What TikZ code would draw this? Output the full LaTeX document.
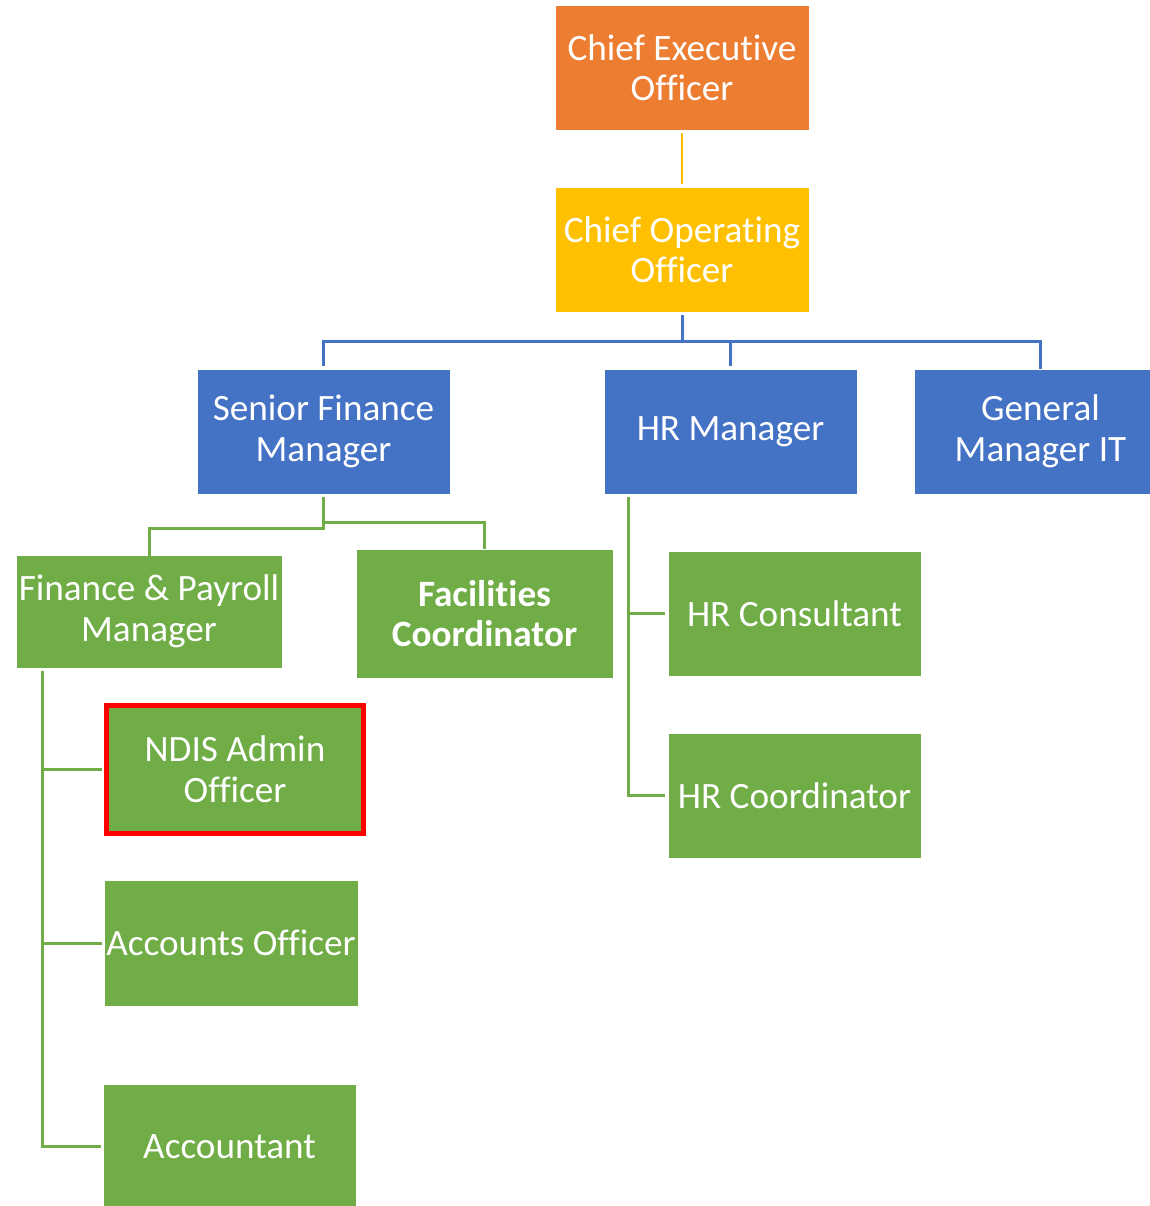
\documentclass[tikz,border=0pt]{standalone}
\usepackage{fontspec}
\setmainfont{Carlito}[Ligatures={NoCommon,NoContextual}, RawFeature={-liga;-clig;-calt;-dlig}]
\newcommand{\nolig}{\kern0pt}
\definecolor{cOrange}{HTML}{ED7D31}
\definecolor{cGold}{HTML}{FFC000}
\definecolor{cBlue}{HTML}{4472C4}
\definecolor{cGreen}{HTML}{70AD47}
\definecolor{cRed}{HTML}{FF0000}
\begin{document}
\begin{tikzpicture}[x=1pt,y=-1pt,
  box/.style={rectangle, draw=white, line width=0.8pt, text=white, align=center,
    inner sep=0pt, minimum width=253pt, minimum height=125pt,
    font=\fontsize{37.2}{40.5}\selectfont},
  orangebox/.style={box, fill=cOrange},
  goldbox/.style={box, fill=cGold},
  bluebox/.style={box, fill=cBlue},
  greenbox/.style={box, fill=cGreen},
  goldline/.style={draw=cGold, line width=2.4pt},
  blueline/.style={draw=cBlue, line width=3pt},
  greenline/.style={draw=cGreen, line width=3pt}]
\useasboundingbox (0,0) rectangle (1149,1206);
% nodes
\node[orangebox, minimum width=254pt] (ceo) at (682,67.5) {Chief Execut\nolig ive\\Officer};
\node[goldbox, minimum width=254pt] (coo) at (682,249.5) {Chief Operat\nolig ing\\Officer};
\node[bluebox] (sfm) at (323.5,431.5) {Senior Finance\\Manager};
\node[bluebox] (hrm) at (730.5,431.5) {HR Manager};
\node[bluebox] (gmit) at (1040.5,431.5) {General\\Manager IT};
\node[greenbox, minimum width=266pt, minimum height=113pt] (fpm) at (149,611.5) {Finance \& Payroll\\Manager};
\node[greenbox, minimum width=257pt, minimum height=129pt, font=\fontsize{37.2}{40.5}\selectfont\bfseries] (fac) at (484.5,613.5) {Facilit\nolig ies\\Coordinator};
\node[greenbox] (hrc) at (794.5,613.5) {HR Consultant};
\node[greenbox] (hrco) at (794.5,795.5) {HR Coordinator};
\node[greenbox, draw=cRed, line width=5pt, minimum width=257pt, minimum height=128pt] (ndis) at (235,769) {NDIS Admin\\Officer};
\node[greenbox, minimum width=254pt, minimum height=126pt] (acco) at (231,943) {Accounts Officer};
\node[greenbox] (acct) at (229.5,1146.5) {Accountant};
% helper coordinates
\coordinate (bus) at (0,341);
\coordinate (sfmL) at (0,528);
\coordinate (sfmR) at (0,522);
\coordinate (hrx) at (628,0);
\coordinate (fpx) at (42,0);
% connectors
\draw[goldline, shorten <=3pt, shorten >=3pt] (ceo.south) -- (coo.south |- coo.north);
\draw[blueline, shorten <=3pt] (coo.south) -- (coo.south |- bus);
\draw[blueline, shorten >=3pt, line join=miter] (sfm.north) ++(0,-3) -- (sfm.north |- bus) -- (gmit.north |- bus) -- ([yshift=-3pt]gmit.north);
\draw[blueline, shorten >=3pt] (hrm.north |- bus) -- (hrm.north);
\draw[greenline, shorten <=3pt, line join=miter] (sfm.south) |- (fpm.north |- sfmL) -- ([yshift=-3pt]fpm.north);
\draw[greenline, line join=miter] (sfm.south |- sfmR) -| ([yshift=0pt]fac.north);
\draw[greenline, shorten <=3pt, line join=miter] (hrx |- hrm.south) |- ([xshift=-3pt]hrco.west);
\draw[greenline] (hrx |- hrc.west) -- ([xshift=-3pt]hrc.west);
\draw[greenline, shorten <=3pt, line join=miter] (fpx |- fpm.south) |- ([xshift=-2pt]acct.west);
\draw[greenline] (fpx |- ndis.west) -- ([xshift=-2.5pt]ndis.west);
\draw[greenline] (fpx |- acco.west) -- ([xshift=-2pt]acco.west);
\end{tikzpicture}
\end{document}
